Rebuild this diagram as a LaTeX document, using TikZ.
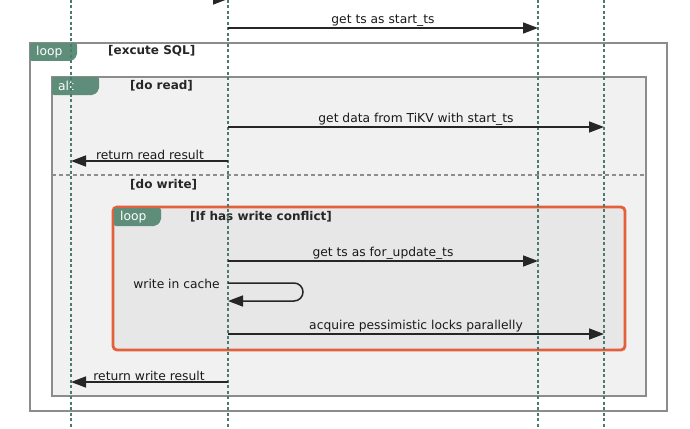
\documentclass[tikz,border=0pt]{standalone}
\usepackage{fontspec}
\setmainfont{DejaVu Sans}
\usetikzlibrary{arrows.meta,positioning,calc}
\definecolor{lifeC}{HTML}{4A7B72}
\definecolor{tabC}{HTML}{5E8E7A}
\definecolor{frameC}{HTML}{8C8C8C}
\definecolor{altC}{HTML}{F1F1F1}
\definecolor{innerC}{HTML}{E7E7E7}
\definecolor{hotC}{HTML}{E2603C}

\begin{document}
\begin{tikzpicture}[x=1pt, y=-1pt, font=\fontsize{12.3}{14}\selectfont,
  life/.style={lifeC, line width=1.7pt, dash pattern=on 3pt off 2.5pt},
  msg/.style={-{Triangle[length=15pt,width=11pt]}, line width=1.5pt, black!85},
  frm/.style={draw=frameC, line width=1.4pt},
  tabbox/.style={fill=tabC, rounded corners=2pt},
  tabtxt/.style={text=white, anchor=west, inner sep=0pt},
  cond/.style={font=\fontsize{12}{14}\selectfont\bfseries, text=black!85, anchor=west, inner sep=0pt},
  lbl/.style={anchor=south, inner sep=1.5pt, text=black!90}]
\useasboundingbox (0,0) rectangle (690,428);

% group frames
\draw[frm, fill=white] (30,43) rectangle (667,411);
\draw[frm, fill=altC] (52,77) rectangle (646,396);
\draw[frameC, line width=1.2pt, dash pattern=on 4pt off 3pt] (52,175) -- (646,175);
\draw[hotC, line width=2.8pt, fill=innerC, rounded corners=4pt] (113,207) rectangle (625,350);

% tabs
\foreach \x/\y/\n/\t in {30/43/ta/loop, 52/77/tb/alt, 114/208/tc/loop} {
  \fill[tabbox] (\x,\y) -- ++(47,0) -- ++(0,13) -- ++(-5,5) -- ++(-42,0) -- cycle;
  \node[tabtxt] (\n) at (\x+6,\y+9) {\t};
}
\node[cond] (c1) at (108,51) {[excute SQL]};
\node[cond] (c2) at (130,86) {[do read]};
\node[cond] (c3) at (130,185) {[do write]};
\node[cond] (c4) at (190,217) {[If has write conflict]};

% lifelines
\foreach \n/\x in {l1/71, l2/228, l3/538, l4/604} {
  \coordinate (\n) at (\x,0);
  \draw[life] (\n) -- ++(0,428);
}

% messages
\coordinate (m0) at (150,-1);
\draw[msg] (l1 |- m0) -- (l2 |- m0);
\node[lbl] (m1) at (383,28) {get ts as start\_ts};
\draw[msg] (l2 |- m1.south) -- (l3 |- m1.south);
\node[lbl] (m2) at (416,127) {get data from TiKV with start\_ts};
\draw[msg] (l2 |- m2.south) -- (l4 |- m2.south);
\node[lbl] (m3) at (150,161) {return read result};
\draw[msg] (l2 |- m3.south) -- (l1 |- m3.south);
\node[lbl] (m4) at (383,261) {get ts as for\_update\_ts};
\draw[msg] (l2 |- m4.south) -- (l3 |- m4.south);
\node[anchor=east, inner sep=0pt, text=black!90] (m5) at (220,284) {write in cache};
\coordinate (s1) at (228,283);
\coordinate (s2) at (228,301);
\draw[msg, rounded corners=9pt] (s1) -- (303,283) -- (303,301) -- (s2);
\node[lbl] (m6) at (416,334) {acquire pessimistic locks parallelly};
\draw[msg] (l2 |- m6.south) -- (l4 |- m6.south);
\node[lbl] (m7) at (149,382) {return write result};
\draw[msg] (l2 |- m7.south) -- (l1 |- m7.south);
\end{tikzpicture}
\end{document}
